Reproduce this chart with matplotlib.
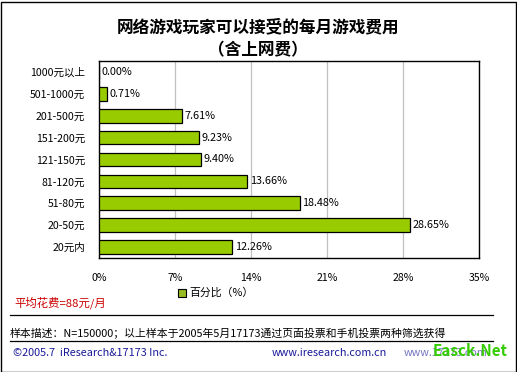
import matplotlib
matplotlib.use("Agg")
import matplotlib.pyplot as plt
from matplotlib.patches import Rectangle
from matplotlib.lines import Line2D

plt.rcParams['font.family'] = ['Noto Sans CJK SC', 'DejaVu Sans']

categories = ["1000元以上", "501-1000元", "201-500元", "151-200元", "121-150元",
              "81-120元", "51-80元", "20-50元", "20元内"]
values = [0.00, 0.71, 7.61, 9.23, 9.40, 13.66, 18.48, 28.65, 12.26]
ticks = [0, 7, 14, 21, 28, 35]

W, H = 517, 372
fig = plt.figure(figsize=(W / 100, H / 100), dpi=100)

# outer border
fig.add_artist(Rectangle((0.5 / W, 0.5 / H), (W - 2) / W, (H - 2) / H,
                         transform=fig.transFigure, fill=False, ec="black", lw=1))

# plot area in pixels: left 99, right 479, top 61, bottom 258
ax = fig.add_axes([99 / W, 1 - 258 / H, 380 / W, 197 / H])
y = list(range(len(categories)))
ax.barh(y, values, height=0.62, color="#99CC00", edgecolor="black", linewidth=0.9, zorder=3)
for yi, v in zip(y, values):
    ax.text(v + 0.25, yi, f"{v:.2f}%", va="center", ha="left", fontsize=7.8, zorder=4)

ax.set_xlim(0, 35)
ax.set_ylim(len(categories) - 0.5, -0.5)
ax.set_yticks(y)
ax.set_yticklabels(categories, fontsize=7.6)
ax.set_xticks(ticks)
ax.set_xticklabels([f"{t}%" for t in ticks], fontsize=7.6)
ax.tick_params(length=0, pad=10)
ax.tick_params(axis="x", pad=11)
ax.xaxis.grid(True, color="#c0c0c0", lw=0.9, zorder=0)
for s in ax.spines.values():
    s.set_color("black")
    s.set_linewidth(1)

fig.text(258 / W, 1 - 27 / H, "网络游戏玩家可以接受的每月游戏费用", ha="center", va="center",
         fontsize=12, fontweight="bold")
fig.text(258 / W, 1 - 50 / H, "（含上网费）", ha="center", va="center",
         fontsize=12, fontweight="bold")

# legend
fig.add_artist(Rectangle((178 / W, 1 - 297 / H), 8 / W, 8 / H, transform=fig.transFigure,
                         fc="#99BB22", ec="black", lw=0.8))
fig.text(189 / W, 1 - 293 / H, "百分比（%）", ha="left", va="center", fontsize=7.8)

fig.text(14 / W, 1 - 303 / H, "平均花费=88元/月", ha="left", va="center", fontsize=8.2,
         color="#CC0000")

fig.add_artist(Line2D([10 / W, 493 / W], [1 - 315 / H, 1 - 315 / H],
                      transform=fig.transFigure, color="black", lw=0.9))
fig.text(10 / W, 1 - 333 / H, "样本描述：N=150000；以上样本于2005年5月17173通过页面投票和手机投票两种筛选获得",
         ha="left", va="center", fontsize=7.8)
fig.add_artist(Line2D([10 / W, 493 / W], [1 - 341 / H, 1 - 341 / H],
                      transform=fig.transFigure, color="black", lw=0.9))

fig.text(13 / W, 1 - 353 / H, "©2005.7  iResearch&17173 Inc.", ha="left", va="center",
         fontsize=7.8, color="#1a1a99")
fig.text(272 / W, 1 - 353 / H, "www.iresearch.com.cn", ha="left", va="center",
         fontsize=7.8, color="#1a1a99")
fig.text(404 / W, 1 - 353 / H, "www.17173.com", ha="left", va="center",
         fontsize=7.8, color="#1a1a99", alpha=0.6)
fig.text(508 / W, 1 - 351 / H, "Easck.Net", ha="right", va="center",
         fontsize=11, fontweight="bold", color="#33CC00")

fig.savefig("out.png", dpi=100)
